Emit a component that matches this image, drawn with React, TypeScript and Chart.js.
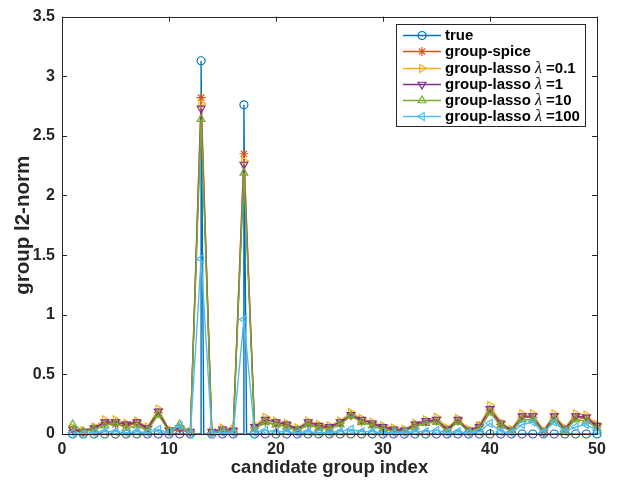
import React, { useEffect, useRef } from "react";
import { Chart, registerables } from "chart.js";

Chart.register(...registerables);

const groupIndex = Array.from({ length: 50 }, (_, i) => i + 1);

const trueValues = [
  0, 0, 0, 0, 0, 0, 0, 0, 0, 0, 0, 0, 3.13, 0, 0, 0, 2.76, 0, 0, 0, 0, 0, 0, 0, 0,
  0, 0, 0, 0, 0, 0, 0, 0, 0, 0, 0, 0, 0, 0, 0, 0, 0, 0, 0, 0, 0, 0, 0, 0, 0,
];
const trueStemWidth = 0.25;

const spiceValues = [
  0.03, 0.01, 0.05, 0.09, 0.08, 0.07, 0.09, 0.04, 0.18, 0.02, 0.04, 0.01, 2.82, 0.01, 0.02, 0.02, 2.35, 0.05, 0.1, 0.08, 0.07, 0.03, 0.08, 0.06, 0.05,
  0.09, 0.16, 0.1, 0.08, 0.05, 0.03, 0.02, 0.07, 0.1, 0.11, 0.03, 0.11, 0.02, 0.07, 0.2, 0.08, 0.02, 0.14, 0.14, 0.01, 0.14, 0.03, 0.14, 0.13, 0.06,
];
const lasso01Values = [
  0.05, 0.03, 0.06, 0.12, 0.12, 0.09, 0.11, 0.06, 0.21, 0.04, 0.06, 0.02, 2.77, 0.02, 0.05, 0.04, 2.29, 0.07, 0.14, 0.11, 0.09, 0.05, 0.11, 0.08, 0.07,
  0.11, 0.18, 0.13, 0.1, 0.07, 0.05, 0.04, 0.09, 0.12, 0.14, 0.05, 0.13, 0.04, 0.07, 0.24, 0.1, 0.04, 0.17, 0.17, 0.03, 0.17, 0.05, 0.17, 0.16, 0.08,
];
const lasso1Values = [
  0.04, 0.02, 0.05, 0.1, 0.1, 0.08, 0.1, 0.05, 0.19, 0.03, 0.05, 0.02, 2.73, 0.02, 0.04, 0.03, 2.26, 0.06, 0.12, 0.1, 0.08, 0.04, 0.1, 0.07, 0.06,
  0.1, 0.16, 0.12, 0.09, 0.06, 0.04, 0.03, 0.08, 0.11, 0.12, 0.04, 0.12, 0.03, 0.06, 0.21, 0.09, 0.03, 0.15, 0.15, 0.02, 0.15, 0.04, 0.15, 0.14, 0.07,
];
const lasso10Values = [
  0.08, 0.02, 0.04, 0.07, 0.09, 0.05, 0.07, 0.03, 0.16, 0.02, 0.08, 0.01, 2.64, 0.01, 0.03, 0.02, 2.19, 0.04, 0.1, 0.08, 0.06, 0.03, 0.08, 0.05, 0.04,
  0.08, 0.15, 0.1, 0.07, 0.04, 0.02, 0.02, 0.06, 0.09, 0.1, 0.02, 0.1, 0.02, 0.04, 0.18, 0.07, 0.02, 0.12, 0.12, 0.01, 0.12, 0.03, 0.12, 0.11, 0.05,
];
const lasso100Values = [
  0.01, 0.0, 0.01, 0.02, 0.02, 0.01, 0.02, 0.01, 0.04, 0.01, 0.07, 0.0, 1.47, 0.0, 0.01, 0.01, 0.96, 0.01, 0.03, 0.02, 0.02, 0.01, 0.02, 0.01, 0.01,
  0.02, 0.04, 0.02, 0.02, 0.01, 0.01, 0.01, 0.02, 0.02, 0.03, 0.01, 0.02, 0.01, 0.02, 0.09, 0.02, 0.01, 0.08, 0.1, 0.01, 0.1, 0.02, 0.06, 0.08, 0.03,
];

const xTicks = [0, 10, 20, 30, 40, 50];
const yTicks = [0, 0.5, 1, 1.5, 2, 2.5, 3, 3.5];

const seriesNames = ["true", "group-spice", "group-lasso", "group-lasso", "group-lasso", "group-lasso"];
const lambdaLabels = ["", "", "=0.1", "=1", "=10", "=100"];
const colors = ["#0072BD", "#D95319", "#EDB120", "#7E2F8E", "#77AC30", "#4DBEEE"];
const markers = ["circle", "star", "triangle", "triangle", "triangle", "triangle"];
const rotations = [0, 0, 90, 180, 0, 270];

const AXIS_COLOR = "#262626";
const SANS = '"Liberation Sans", Arial, sans-serif';
const LINE_W = 1.4;

function drawMarker(ctx: CanvasRenderingContext2D, kind: string, x: number, y: number, r: number, rot: number, color: string) {
  ctx.save();
  ctx.strokeStyle = color;
  ctx.lineWidth = 1.2;
  ctx.translate(x, y);
  ctx.rotate((rot * Math.PI) / 180);
  ctx.beginPath();
  if (kind === "circle") {
    ctx.arc(0, 0, r, 0, Math.PI * 2);
  } else if (kind === "star") {
    for (let k = 0; k < 4; k++) {
      const a = (k * Math.PI) / 4;
      ctx.moveTo(-Math.sin(a) * r, -Math.cos(a) * r);
      ctx.lineTo(Math.sin(a) * r, Math.cos(a) * r);
    }
  } else {
    for (let k = 0; k < 3; k++) {
      const a = (k * 2 * Math.PI) / 3;
      const px = Math.sin(a) * r;
      const py = -Math.cos(a) * r;
      if (k === 0) ctx.moveTo(px, py);
      else ctx.lineTo(px, py);
    }
    ctx.closePath();
  }
  ctx.stroke();
  ctx.restore();
}

const framePlugin = {
  id: "frame",
  afterDraw(chart: any) {
    const ctx: CanvasRenderingContext2D = chart.ctx;
    const { left, right, top, bottom } = chart.chartArea;
    const xs = chart.scales.x;
    const ys = chart.scales.y;
    ctx.save();
    ctx.strokeStyle = AXIS_COLOR;
    ctx.lineWidth = 1;
    ctx.beginPath();
    ctx.rect(Math.round(left) + 0.5, Math.round(top) + 0.5, Math.round(right - left), Math.round(bottom - top));
    const tl = 5;
    xTicks.forEach((v) => {
      const px = Math.round(xs.getPixelForValue(v)) + 0.5;
      ctx.moveTo(px, bottom);
      ctx.lineTo(px, bottom - tl);
      ctx.moveTo(px, top);
      ctx.lineTo(px, top + tl);
    });
    yTicks.forEach((v) => {
      const py = Math.round(ys.getPixelForValue(v)) + 0.5;
      ctx.moveTo(left, py);
      ctx.lineTo(left + tl, py);
      ctx.moveTo(right, py);
      ctx.lineTo(right - tl, py);
    });
    ctx.stroke();

    // legend
    const bx = 396.5, by = 24.5, bw = 189, bh = 102;
    ctx.fillStyle = "#ffffff";
    ctx.fillRect(bx, by, bw, bh);
    ctx.strokeStyle = AXIS_COLOR;
    ctx.lineWidth = 1;
    ctx.strokeRect(bx, by, bw, bh);
    const rowY = [35, 51, 67.5, 83.5, 100, 116];
    seriesNames.forEach((name, i) => {
      const y = rowY[i];
      ctx.strokeStyle = colors[i];
      ctx.lineWidth = LINE_W;
      ctx.beginPath();
      ctx.moveTo(403, Math.round(y) + 0.5);
      ctx.lineTo(441, Math.round(y) + 0.5);
      ctx.stroke();
      drawMarker(ctx, markers[i], 422, Math.round(y) + 0.5, markers[i] === "circle" ? 4 : 4.5, rotations[i], colors[i]);
      ctx.fillStyle = "#000000";
      ctx.textBaseline = "middle";
      ctx.textAlign = "left";
      ctx.font = `bold 15px ${SANS}`;
      let tx = 445;
      const label = lambdaLabels[i] ? name + " " : name;
      ctx.fillText(label, tx, y + 1);
      if (lambdaLabels[i]) {
        tx += ctx.measureText(label).width;
        ctx.font = `italic 16px "Liberation Serif", serif`;
        ctx.fillText("\u03bb", tx, y + 1);
        tx += ctx.measureText("\u03bb").width;
        ctx.font = `bold 15px ${SANS}`;
        ctx.fillText(" " + lambdaLabels[i], tx, y + 1);
      }
    });
    ctx.restore();
  },
};

function makeSeries(values: number[], i: number) {
  return {
    label: seriesNames[i] + (lambdaLabels[i] ? " \u03bb " + lambdaLabels[i] : ""),
    data: groupIndex.map((x, k) => ({ x, y: values[k] })),
    borderColor: colors[i],
    borderWidth: LINE_W,
    pointStyle: markers[i],
    pointRotation: rotations[i],
    pointRadius: 4.5,
    pointBorderWidth: 1.2,
    pointBorderColor: colors[i],
    pointBackgroundColor: "rgba(0,0,0,0)",
    tension: 0,
    clip: 10,
    order: 6 - i,
  };
}

export default function App() {
  const canvasRef = useRef<HTMLCanvasElement | null>(null);

  useEffect(() => {
    document.body.style.margin = "0";
    const canvas = canvasRef.current;
    if (!canvas) return;

    const truePoints: { x: number; y: number; m: boolean }[] = [];
    groupIndex.forEach((x, k) => {
      const v = trueValues[k];
      if (v > 0) {
        truePoints.push({ x, y: 0, m: false });
        truePoints.push({ x, y: v, m: true });
        truePoints.push({ x: x + trueStemWidth, y: 0, m: false });
      } else {
        truePoints.push({ x, y: 0, m: true });
      }
    });

    const datasets: any[] = [
      {
        label: "true",
        data: truePoints,
        borderColor: colors[0],
        borderWidth: LINE_W,
        pointStyle: "circle",
        pointRadius: (c: any) => (c.raw && c.raw.m ? 4 : 0),
        pointBorderWidth: 1.2,
        pointBorderColor: colors[0],
        pointBackgroundColor: "rgba(0,0,0,0)",
        tension: 0,
        clip: 10,
        order: 6,
      },
      makeSeries(spiceValues, 1),
      makeSeries(lasso01Values, 2),
      makeSeries(lasso1Values, 3),
      makeSeries(lasso10Values, 4),
      makeSeries(lasso100Values, 5),
    ];

    const chart = new Chart(canvas, {
      type: "line",
      data: { datasets },
      options: {
        animation: false,
        responsive: true,
        maintainAspectRatio: false,
        layout: { padding: { top: 12, right: 27, left: 0, bottom: 0 } },
        plugins: {
          legend: { display: false },
          tooltip: { enabled: false },
        },
        events: [],
        scales: {
          x: {
            type: "linear",
            min: 0,
            max: 50,
            afterBuildTicks: (s: any) => {
              s.ticks = xTicks.map((v) => ({ value: v }));
            },
            afterFit: (s: any) => {
              s.height = 48;
            },
            grid: { display: false, drawTicks: false },
            border: { display: false },
            ticks: {
              color: AXIS_COLOR,
              font: { family: SANS, size: 16, weight: "bold" },
              padding: 6,
              maxRotation: 0,
            },
            title: {
              display: true,
              text: "candidate group index",
              color: AXIS_COLOR,
              font: { family: SANS, size: 18.5, weight: "bold" },
              padding: { top: 0, bottom: 3 },
            },
          },
          y: {
            type: "linear",
            min: 0,
            max: 3.5,
            afterBuildTicks: (s: any) => {
              s.ticks = yTicks.map((v) => ({ value: v }));
            },
            afterFit: (s: any) => {
              s.width = 62;
            },
            grid: { display: false, drawTicks: false },
            border: { display: false },
            ticks: {
              color: AXIS_COLOR,
              font: { family: SANS, size: 16, weight: "bold" },
              padding: 7,
              callback: (v: any) => String(v),
            },
            title: {
              display: true,
              text: "group l2-norm",
              color: AXIS_COLOR,
              font: { family: SANS, size: 20.5, weight: "bold" },
              padding: { top: 11, bottom: 0 },
            },
          },
        },
      } as any,
      plugins: [framePlugin],
    });

    return () => chart.destroy();
  }, []);

  return (
    <div style={{ position: "relative", width: 624, height: 482, background: "#ffffff" }}>
      <canvas ref={canvasRef} />
    </div>
  );
}
